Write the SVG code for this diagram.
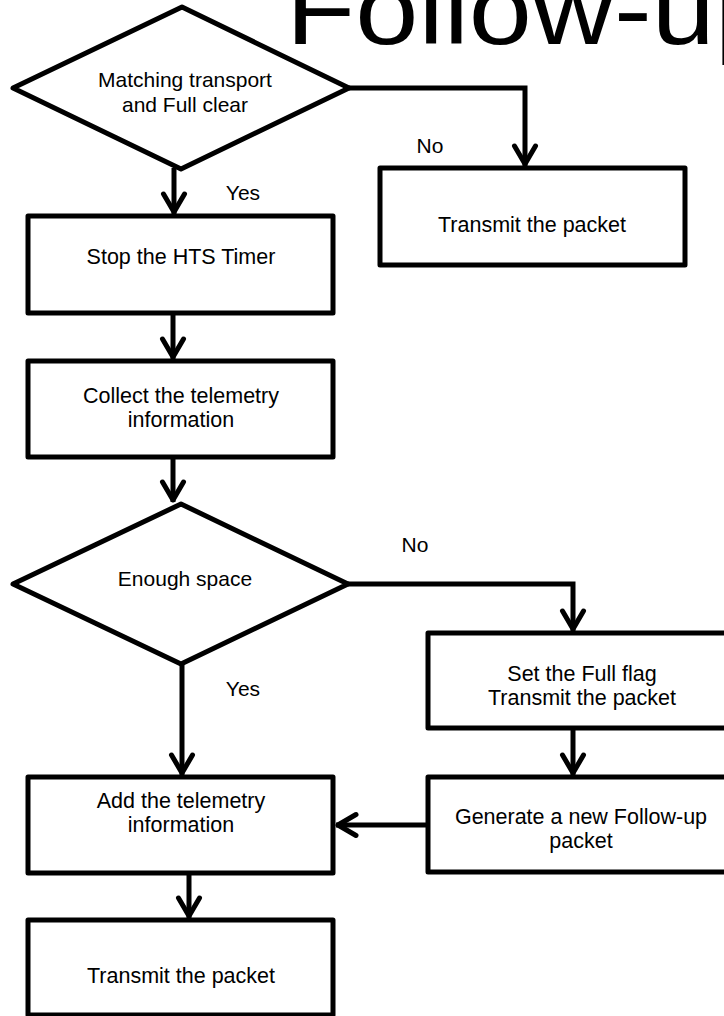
<svg xmlns="http://www.w3.org/2000/svg" width="724" height="1016" viewBox="0 0 724 1016">
<defs>
<style>
.shape{fill:#fff;stroke:#000;stroke-width:5;stroke-linejoin:round}
.conn{fill:none;stroke:#000;stroke-width:5;stroke-linejoin:miter}
.t{font-family:"Liberation Sans",Arial,sans-serif;font-size:21.5px;fill:#000;text-anchor:middle}
.lbl{font-family:"Liberation Sans",Arial,sans-serif;font-size:21px;fill:#000;text-anchor:middle}
.title{font-family:"Liberation Sans",Arial,sans-serif;font-size:100px;fill:#000}
</style>
<marker id="arr" viewBox="-24 -16 30 32" refX="2" refY="0" markerWidth="30" markerHeight="32" markerUnits="userSpaceOnUse" orient="auto">
<path d="M-18,-10.5 L0,0 L-18,10.5" fill="none" stroke="#000" stroke-width="5" stroke-linejoin="round" stroke-linecap="round"/>
</marker>
</defs>
<rect width="724" height="1016" fill="#fff"/>
<text class="title" transform="translate(286,44) scale(1.135,1)" x="0" y="0">Follow-up</text>

<g id="connectors">
<line class="conn" x1="174" y1="168" x2="174" y2="214" marker-end="url(#arr)"/>
<polyline class="conn" points="349,88 525,88 525,166" marker-end="url(#arr)"/>
<line class="conn" x1="173" y1="313" x2="173" y2="359" marker-end="url(#arr)"/>
<line class="conn" x1="173" y1="457" x2="173" y2="502" marker-end="url(#arr)"/>
<polyline class="conn" points="348,584 573,584 573,631" marker-end="url(#arr)"/>
<line class="conn" x1="573" y1="728" x2="573" y2="775" marker-end="url(#arr)"/>
<line class="conn" x1="428" y1="825" x2="336" y2="825" marker-end="url(#arr)"/>
<line class="conn" x1="182" y1="664" x2="182" y2="775" marker-end="url(#arr)"/>
<line class="conn" x1="189" y1="873" x2="189" y2="918" marker-end="url(#arr)"/>
</g>

<g id="d_matching">
<polygon class="shape" points="182,7 349,88 181,169 13,88"/>
<text class="lbl" x="185" y="87">Matching transport</text>
<text class="lbl" x="185" y="112">and Full clear</text>
</g>
<g id="lbl_yes1"><text class="lbl" x="243" y="200">Yes</text></g>
<g id="lbl_no1"><text class="lbl" x="430" y="153">No</text></g>

<g id="b_stop">
<rect class="shape" x="28" y="216" width="305" height="97"/>
<text class="t" x="181" y="264">Stop the HTS Timer</text>
</g>
<g id="b_transmit1">
<rect class="shape" x="380" y="168" width="305" height="97"/>
<text class="t" x="532" y="232">Transmit the packet</text>
</g>
<g id="b_collect">
<rect class="shape" x="28" y="361" width="305" height="96"/>
<text class="t" x="181" y="403">Collect the telemetry</text>
<text class="t" x="181" y="427">information</text>
</g>
<g id="d_space">
<polygon class="shape" points="181,504 348,584 181,664 13,584"/>
<text class="lbl" x="185" y="586">Enough space</text>
</g>
<g id="lbl_no2"><text class="lbl" x="415" y="552">No</text></g>
<g id="lbl_yes2"><text class="lbl" x="243" y="696">Yes</text></g>
<g id="b_setfull">
<rect class="shape" x="428" y="633" width="308" height="95"/>
<text class="t" x="582" y="681">Set the Full flag</text>
<text class="t" x="582" y="705">Transmit the packet</text>
</g>
<g id="b_generate">
<rect class="shape" x="428" y="777" width="308" height="95"/>
<text class="t" x="581" y="824">Generate a new Follow-up</text>
<text class="t" x="581" y="848">packet</text>
</g>
<g id="b_add">
<rect class="shape" x="28" y="777" width="305" height="96"/>
<text class="t" x="181" y="808">Add the telemetry</text>
<text class="t" x="181" y="832">information</text>
</g>
<g id="b_transmit2">
<rect class="shape" x="28" y="920" width="305" height="95"/>
<text class="t" x="181" y="983">Transmit the packet</text>
</g>
</svg>
